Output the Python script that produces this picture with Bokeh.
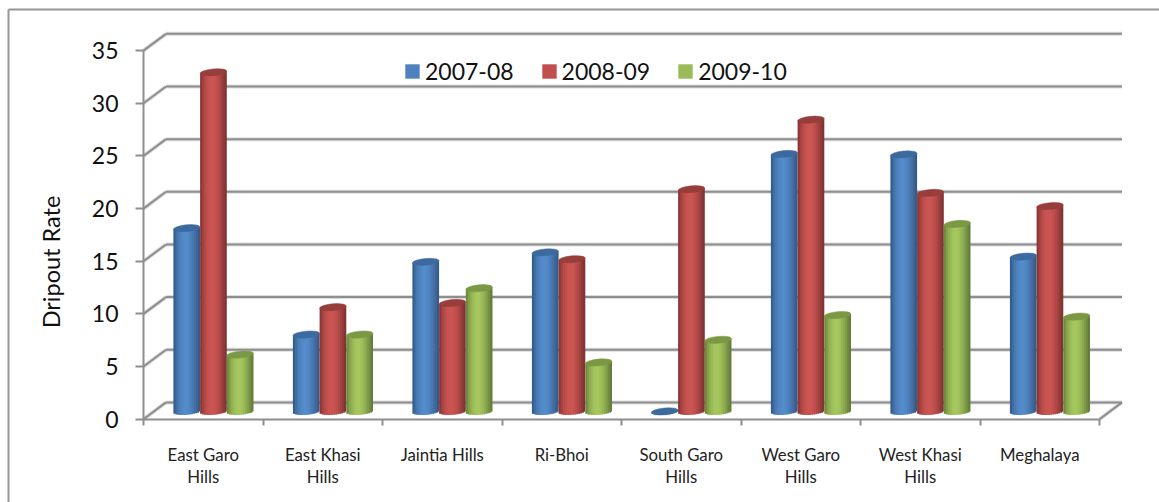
from math import pi
from bokeh.plotting import figure
from bokeh.models import ColumnDataSource, FixedTicker, Legend, LegendItem, Range1d
from bokeh.core.properties import value
from bokeh.embed import file_html
from bokeh.resources import INLINE

categories = ["East Garo\nHills", "East Khasi\nHills", "Jaintia Hills", "Ri-Bhoi",
              "South Garo\nHills", "West Garo\nHills", "West Khasi\nHills", "Meghalaya"]
series_names = ["2007-08", "2008-09", "2009-10"]
v_2007_08 = [17.4, 7.3, 14.2, 15.1, 0.0, 24.45, 24.4, 14.7]
v_2008_09 = [32.2, 9.9, 10.3, 14.45, 21.1, 27.7, 20.75, 19.5]
v_2009_10 = [5.4, 7.3, 11.7, 4.65, 6.8, 9.15, 17.8, 9.0]
y_ticks = [0, 5, 10, 15, 20, 25, 30, 35]
y_title = "Dripout Rate"

blue = ["#355d8c","#3f6ea6","#477ab5","#4f81bd","#5288c6","#548ccb","#548bca","#5187c5","#4d81bc","#4978b2","#446fa5","#3e6596","#375b88"]
red = ["#8c3735","#a44240","#b54a47","#c0504d","#c85452","#cb5553","#ca5553","#c55250","#bc4e4b","#af4946","#a04240","#8f3b39","#803533"]
green = ["#6e8a3f","#83a049","#92b052","#9bbb59","#a2c45c","#a5c75d","#a4c65d","#9fc05b","#97b655","#8cab50","#7f9c49","#728c42","#667e3b"]
caps = ["#3c6a9f", "#973d3b", "#7b9945"]
GRID = "#8e8e8e"
HALO = "#dcdcdc"
TEXT = "#111111"
FONT = "Lato"

PX_X = 119.5          # pixels per category
PX_Y = 10.53          # pixels per value unit
W, H = 1159, 502
OX, OY = 143.0, 418.7  # where the chart origin sits on the page

def data_x(px):
    return (px - OX) / PX_X

def data_y(py):
    return (OY - py) / PX_Y

p = figure(width=W, height=H, output_backend="svg", toolbar_location=None,
           x_range=Range1d(data_x(0), data_x(W)),
           y_range=Range1d(data_y(H), data_y(0)),
           min_border=0, outline_line_color=None,
           background_fill_color="white", border_fill_color="white")
p.grid.visible = False

# ---- page frame -----------------------------------------------------------
p.segment([data_x(8), data_x(8)], [data_y(9), data_y(9)], [data_x(W), data_x(8)], [data_y(9), data_y(H)],
          line_color="#969696", line_width=2)

# ---- 3D walls -------------------------------------------------------------
dx, dy = 22.5 / PX_X, 16.8 / PX_Y
n_cat = len(categories)
x0s = [0.0] * len(y_ticks) + [dx] * len(y_ticks) + [float(n_cat)]
y0s = [float(t) for t in y_ticks] + [t + dy for t in y_ticks] + [0.0]
x1s = [dx] * len(y_ticks) + [n_cat + dx] * len(y_ticks) + [n_cat + dx]
y1s = [t + dy for t in y_ticks] * 2 + [dy]
walls = ColumnDataSource(dict(x0=x0s, y0=y0s, x1=x1s, y1=y1s))
p.segment("x0", "y0", "x1", "y1", source=walls, line_color=HALO, line_width=4)
p.segment("x0", "y0", "x1", "y1", source=walls, line_color=GRID, line_width=2)

# ---- cylinders ------------------------------------------------------------
bar_w = 26.7 / PX_X
base = 7.8 / PX_Y       # centre of the base ellipse above the floor edge
half_h = 3.4 / PX_Y
tilt = 1.2 / PX_Y
group_shift = 10.2 / PX_X
overlap = 1.0 / PX_X    # each strip runs under the next, so no seams show
legend_items = []
for s, (name, vals, pal, cap, base_col) in enumerate(zip(
        series_names, [v_2007_08, v_2008_09, v_2009_10], [blue, red, green], caps,
        ["#4f81bd", "#c0504d", "#9bbb59"])):
    n = len(pal)
    d = dict(l=[], r=[], t=[], b=[], c=[])
    cx_all = []
    for i, v in enumerate(vals):
        cx = i + 0.5 + group_shift + (s - 1) * bar_w
        cx_all.append(cx)
        for k, col in enumerate(pal):
            u0 = -1 + 2 * k / n
            u1 = u0 + 2 / n
            um = (u0 + u1) / 2
            d["l"].append(cx + u0 * bar_w / 2)
            d["r"].append(cx + u1 * bar_w / 2 + (overlap if k < n - 1 else 0))
            d["b"].append(base - half_h * (1 - um * um) ** 0.5 + tilt * um)
            d["t"].append(base + v + tilt * um)
            d["c"].append(col)
    r = p.quad(left="l", right="r", top="t", bottom="b", fill_color="c", line_color=None,
               source=ColumnDataSource(d))
    p.ellipse(x="x", y="y", width=bar_w, height=2 * half_h, angle=0.09,
              fill_color=cap, line_color=cap, line_width=0.5,
              source=ColumnDataSource(dict(x=cx_all, y=[base + v for v in vals])))
    legend_items.append(LegendItem(label=name, renderers=[r], index=pal.index(base_col)))

# ---- axes -----------------------------------------------------------------
ya = p.yaxis[0]
ya.fixed_location = 0
ya.ticker = FixedTicker(ticks=y_ticks)
ya.bounds = (0, 35)
ya.axis_line_color = GRID
ya.axis_line_width = 2
ya.major_tick_line_color = GRID
ya.major_tick_line_width = 2
ya.major_tick_in = 0
ya.major_tick_out = 8
ya.minor_tick_line_color = None
ya.major_label_standoff = 17
ya.major_label_text_font = FONT
ya.major_label_text_font_size = "23px"
ya.major_label_text_color = TEXT

p.text(x=[data_x(50)], y=[data_y(261.5)], text=[y_title], angle=pi / 2,
       text_font=value(FONT), text_font_size="23.5px", text_color=TEXT,
       text_align="center", text_baseline="middle")

xa = p.xaxis[0]
xa.fixed_location = 0
xa.ticker = FixedTicker(ticks=[i + 0.5 for i in range(n_cat)],
                        minor_ticks=list(range(n_cat + 1)))
xa.bounds = (0, n_cat)
xa.major_label_overrides = {i + 0.5: c for i, c in enumerate(categories)}
xa.axis_line_color = GRID
xa.axis_line_width = 2
xa.major_tick_line_color = None
xa.major_tick_in = 0
xa.major_tick_out = 0
xa.minor_tick_line_color = GRID
xa.minor_tick_line_width = 2
xa.minor_tick_in = 0
xa.minor_tick_out = 6
xa.major_label_standoff = 19
xa.major_label_text_font = FONT
xa.major_label_text_font_size = "16.8px"
xa.major_label_text_color = "#222222"
xa.major_label_text_line_height = 1.05

# ---- legend ---------------------------------------------------------------
leg = Legend(items=legend_items, orientation="horizontal", location=(403, 417),
             glyph_width=18, glyph_height=18, label_standoff=4, spacing=26,
             padding=0, margin=0, border_line_color=None, background_fill_alpha=0,
             label_text_font=FONT, label_text_font_size="23px", label_text_color=TEXT)
p.add_layout(leg, "center")

open("out.html", "w").write(file_html(p, INLINE))
